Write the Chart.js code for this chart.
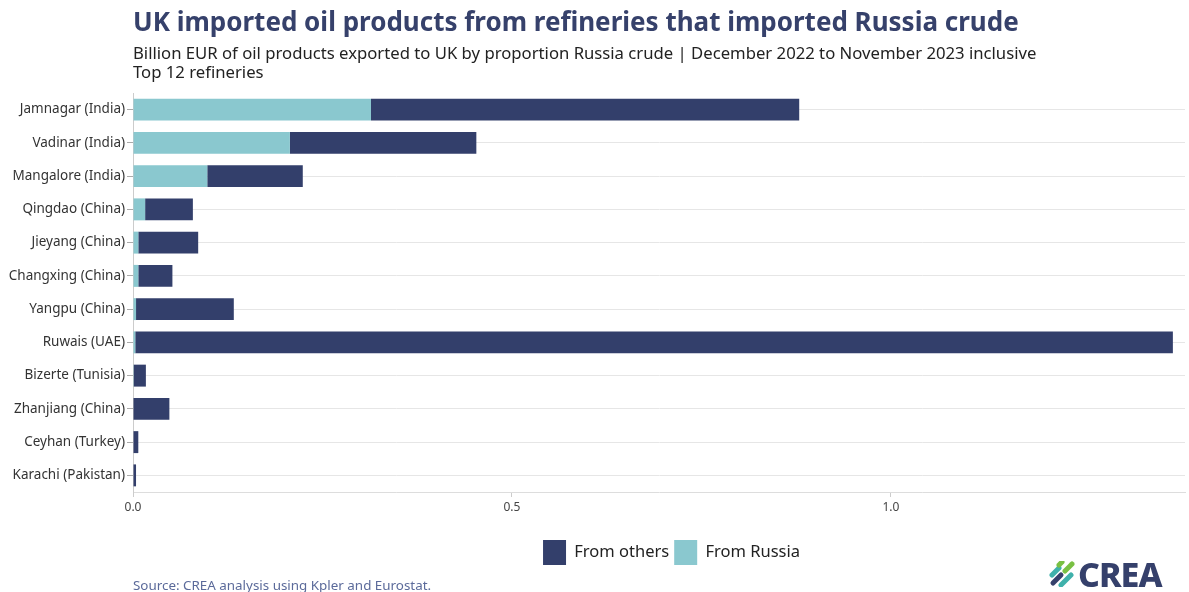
<!DOCTYPE html>
<html>
<head>
<meta charset="utf-8">
<script src="https://cdn.jsdelivr.net/npm/chart.js@4.4.0/dist/chart.umd.min.js"></script>
<style>
  html, body { margin: 0; padding: 0; background: #ffffff; }
  body { width: 1189px; height: 592px; position: relative; overflow: hidden; font-family: 'Noto Sans', sans-serif; }
  #wrap { position: absolute; left: 0; top: 0; width: 1189px; height: 592px; }
  .title { position: absolute; left: 133px; top: 3px; font-size: 26px; font-weight: 700; color: #36416b; white-space: nowrap; }
  .sub { position: absolute; left: 133px; top: 43px; font-size: 16.7px; line-height: 19px; color: #222; white-space: nowrap; }
  .source { position: absolute; left: 133px; top: 576px; font-size: 13.4px; color: #5b6a9a; white-space: nowrap; }
  .logo { position: absolute; left: 1049px; top: 557px; display: flex; align-items: center; }
  .logo span { font-size: 34px; font-weight: 800; color: #35406b; letter-spacing: -1px; line-height: 34px; margin-left: 3px; }
</style>
</head>
<body>
<div id="wrap"><canvas id="c" width="1189" height="592"></canvas></div>
<div class="title">UK imported oil products from refineries that imported Russia crude</div>
<div class="sub">Billion EUR of oil products exported to UK by proportion Russia crude | December 2022 to November 2023 inclusive<br>Top 12 refineries</div>
<div class="source">Source: CREA analysis using Kpler and Eurostat.</div>
<div class="logo">
  <svg width="26" height="26" viewBox="0 0 26 26">
    <g stroke-linecap="round" stroke-width="5" fill="none">
      <line x1="4" y1="22" x2="12" y2="14" stroke="#35406b"/>
      <line x1="3" y1="14" x2="10" y2="7" stroke="#3fb1ab"/>
      <line x1="12" y1="24" x2="22" y2="14" stroke="#3fb1ab"/>
      <line x1="10" y1="4" x2="13" y2="1" stroke="#79c043"/>
      <line x1="16" y1="10" x2="23" y2="3" stroke="#79c043"/>
    </g>
  </svg>
  <span>CREA</span>
</div>
<script>
const categories = [
  'Jamnagar (India)', 'Vadinar (India)', 'Mangalore (India)', 'Qingdao (China)',
  'Jieyang (China)', 'Changxing (China)', 'Yangpu (China)', 'Ruwais (UAE)',
  'Bizerte (Tunisia)', 'Zhanjiang (China)', 'Ceyhan (Turkey)', 'Karachi (Pakistan)'
];
const fromRussia = [0.314, 0.207, 0.098, 0.016, 0.007, 0.007, 0.004, 0.003, 0.001, 0.0, 0.0, 0.0];
const fromOthers = [0.565, 0.246, 0.126, 0.063, 0.079, 0.045, 0.129, 1.369, 0.016, 0.048, 0.007, 0.004];
const xTickValues = [0, 0.5, 1.0];

Chart.defaults.font.family = "'Noto Sans', sans-serif";

// shift the legend so it is centred where the reference places it
const legendShift = {
  id: 'legendShift',
  afterLayout(chart) {
    if (chart.legend) { chart.legend.left += 158; }
  }
};

new Chart(document.getElementById('c'), {
  type: 'bar',
  data: {
    labels: categories,
    datasets: [
      { label: 'From Russia', data: fromRussia, backgroundColor: '#8ac8cf', borderWidth: 0 },
      { label: 'From others', data: fromOthers, backgroundColor: '#333f6b', borderWidth: 0 }
    ]
  },
  plugins: [legendShift],
  options: {
    indexAxis: 'y',
    responsive: false,
    animation: false,
    categoryPercentage: 1,
    barPercentage: 0.66,
    layout: { padding: { top: 93, right: 4, bottom: 17, left: 0 } },
    plugins: {
      title: { display: false },
      tooltip: { enabled: false },
      legend: {
        position: 'bottom',
        reverse: true,
        labels: {
          boxWidth: 23,
          boxHeight: 25,
          padding: 5,
          color: '#222',
          font: { size: 16.5 }
        }
      }
    },
    scales: {
      x: {
        stacked: true,
        min: 0,
        max: 1.388,
        afterFit: s => { s.height = 43; },
        afterBuildTicks: s => { s.ticks = xTickValues.map(v => ({ value: v })); },
        ticks: {
          color: '#444',
          font: { size: 12 },
          padding: 3,
          callback: v => Number(v).toFixed(1)
        },
        grid: { drawOnChartArea: false, tickLength: 5, color: '#cccccc' },
        border: { color: '#dddddd' }
      },
      y: {
        stacked: true,
        afterFit: s => { s.width = 133; },
        ticks: { color: '#333', font: { size: 13.5 }, padding: 2 },
        grid: { offset: false, color: '#e6e6e6', tickLength: 6, tickColor: '#aaaaaa' },
        border: { color: '#cccccc' }
      }
    }
  }
});
</script>
</body>
</html>
